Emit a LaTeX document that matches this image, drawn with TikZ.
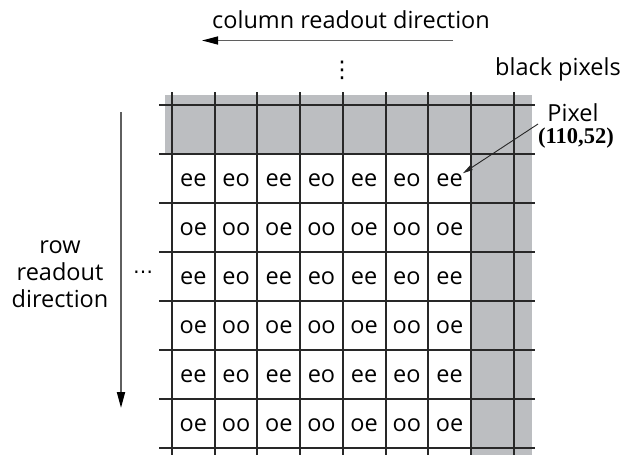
\documentclass[tikz,border=0pt]{standalone}
\usepackage{fontspec}
\setmainfont{Open Sans}
\newfontfamily\coordfont{Liberation Serif}
\newfontfamily\symfont{DejaVu Sans}
\usetikzlibrary{arrows.meta}
\definecolor{maskgray}{RGB}{188,190,193}
\definecolor{gridink}{RGB}{40,40,40}
\definecolor{arrowink}{RGB}{95,95,95}
\tikzset{
  gridrule/.style={draw=gridink, line width=2pt},
  celltext/.style={inner sep=0pt, font=\fontsize{23.5}{26}\selectfont},
  caption/.style={inner sep=0pt, font=\fontsize{23.5}{27}\selectfont},
  ellipsis/.style={inner sep=0pt, font=\symfont\fontsize{23}{25}\selectfont},
  readout/.style={draw=arrowink, line width=1.8pt,
    -{Triangle[length=16pt,width=8pt,fill=black,color=black]}},
  pointer/.style={draw=black!85, line width=0.9pt,
    -{Triangle[length=10pt,width=5pt]}},
}
\begin{document}
\begin{tikzpicture}[x=1pt,y=-1pt]
\useasboundingbox (0,0) rectangle (624,455);

% masked (black) pixels: top row and right-hand columns
\fill[maskgray] (165,95) rectangle (532,154);
\fill[maskgray] (471,154) rectangle (532,455);

% pixel grid
\foreach \y in {105,154,203,252,301,350,399,448}
  \draw[gridrule] (159,\y) -- (535,\y);
\foreach \i in {0,...,8}
  \draw[gridrule] ({172+42.7*\i},92) -- ({172+42.7*\i},455);

% colour-phase labels of the active pixels
\foreach \r in {0,...,5}{
  \foreach \c in {0,...,6}{
    \pgfmathsetmacro{\first}{ifthenelse(mod(\r,2)==0,"e","o")}
    \pgfmathsetmacro{\second}{ifthenelse(mod(\c,2)==0,"e","o")}
    \node[celltext] (cell-\r-\c) at ({172+42.7*(\c+0.5)},{180+49*\r}) {\first\second};
  }
}

% column readout direction
\node[caption] (coltitle) at (351,20) {column readout direction};
\coordinate (colstart) at (453,40.5);
\coordinate (colend) at (202,40.5);
\draw[readout, line width=1.4pt] (colstart) -- (colend);
\node[ellipsis] (coldots) at (342,70) {⋮};

% row readout direction
\node[caption, align=center] (rowtitle) at (60,274) {row\\readout\\direction};
\coordinate (rowstart) at (121,112);
\coordinate (rowend) at (121,408);
\draw[readout] (rowstart) -- (rowend);
\node[ellipsis, font=\symfont\fontsize{20}{22}\selectfont] (rowdots) at (143,275) {⋯};

% annotations on the right
\node[caption] (blacklabel) at (558,69) {black pixels};
\node[caption] (pixlabel) at (573,113) {Pixel};
\node[inner sep=0pt, font=\coordfont\bfseries\fontsize{22.5}{24}\selectfont] (pixcoord) at (576,138.5) {(110,52)};
\coordinate (pointfrom) at (538,124);
\draw[pointer] (pointfrom) -- (cell-0-6.north east);
\end{tikzpicture}
\end{document}
